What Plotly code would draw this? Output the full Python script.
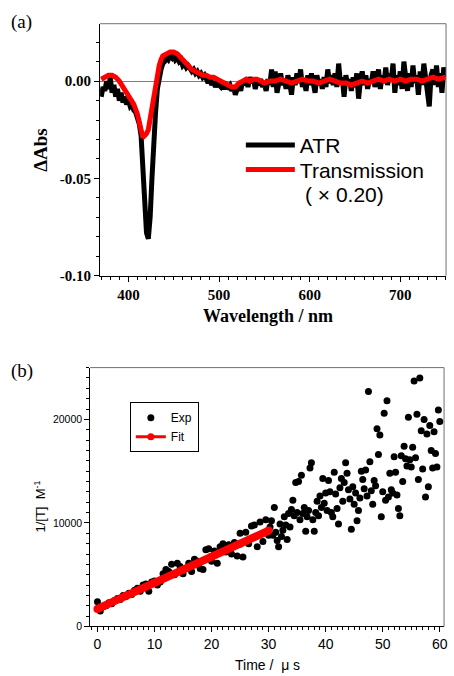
import plotly.graph_objects as go

# ---------------- Panel (a) data ----------------
atr_wavelength = list(range(370, 752, 2))  # nm grid, 2 nm step
atr_dabs = [
    -0.008, -0.003, -0.005, 0.000, -0.004, 0.002, -0.006, -0.002, -0.008, -0.004,   # 370-388
    -0.010, -0.006, -0.011, -0.008, -0.012, -0.010, -0.013, -0.012, -0.015, -0.016, # 390-408
    -0.019, -0.022, -0.028, -0.042, -0.062, -0.078, -0.081, -0.070, -0.050, -0.030, # 410-428
    -0.016, -0.004, 0.003, 0.006, 0.009, 0.010, 0.012, 0.011, 0.013, 0.012,         # 430-448
    0.014, 0.011, 0.012, 0.010, 0.011, 0.008, 0.009, 0.007, 0.008, 0.006,           # 450-468
    0.005, 0.006, 0.004, 0.005, 0.003, 0.004, 0.002, 0.003, 0.001, -0.001,          # 470-488
    0.001, -0.002, 0.000, -0.003, -0.001, -0.002, -0.003, -0.001, -0.004, -0.002,   # 490-508
    -0.003, -0.002, -0.005, -0.003, -0.007, -0.004, -0.002, -0.005, 0.000, -0.002,  # 510-528
    0.001, -0.003, 0.002, -0.001, 0.001, -0.004, 0.000, -0.002, 0.001, -0.003,      # 530-548
    -0.001, -0.005, 0.001, -0.002, 0.006, -0.003, 0.005, -0.006, 0.000, 0.004,      # 550-568
    -0.002, 0.001, -0.004, 0.003, -0.001, -0.007, 0.002, -0.002, 0.004, -0.001,     # 570-588
    0.006, -0.003, 0.001, -0.005, 0.003, -0.002, 0.004, -0.001, -0.006, 0.003,      # 590-608
    -0.002, 0.001, -0.004, 0.002, -0.003, 0.006, -0.001, 0.003, -0.002, 0.004,      # 610-628
    -0.003, 0.009, -0.001, 0.002, -0.008, 0.003, -0.002, 0.001, -0.005, 0.002,      # 630-648
    -0.003, 0.004, -0.009, 0.000, 0.005, -0.002, 0.003, -0.004, 0.001, -0.001,      # 650-668
    0.005, -0.003, 0.002, 0.006, -0.004, 0.003, -0.001, 0.007, -0.002, 0.004,       # 670-688
    0.000, 0.009, -0.006, 0.003, -0.002, 0.005, -0.004, 0.010, 0.002, -0.005,       # 690-708
    0.004, -0.003, 0.008, -0.001, 0.003, -0.007, 0.005, -0.002, 0.009, 0.001,       # 710-728
    -0.004, -0.013, 0.003, 0.006, -0.002, 0.008, -0.003, 0.004, -0.006, 0.007,      # 730-748
    0.002,                                                                          # 750
]

trans_wavelength = [370, 374, 378, 382, 386, 390, 394, 398, 402, 406,
                    410, 412, 414, 416, 418, 420, 422, 424, 426, 428,
                    430, 432, 434, 436, 438, 442, 446, 450, 454, 458,
                    462, 466, 470, 474, 478, 482, 486, 490, 494, 498,
                    502, 506, 510, 514, 518, 522, 526, 530, 534, 538,
                    542, 546, 550, 556, 562, 568, 574, 580, 586, 592,
                    598, 604, 610, 616, 622, 628, 634, 640, 646, 652,
                    658, 664, 670, 676, 682, 688, 694, 700, 706, 712,
                    718, 724, 730, 736, 742, 750]
trans_dabs = [0.001, 0.002, 0.003, 0.003, 0.002, 0.000, -0.003, -0.006, -0.009, -0.012,
              -0.017, -0.021, -0.026, -0.029, -0.028, -0.027, -0.025, -0.019, -0.012, -0.006,
              -0.001, 0.004, 0.008, 0.011, 0.013, 0.014, 0.015, 0.015, 0.014, 0.012,
              0.010, 0.008, 0.006, 0.005, 0.004, 0.003, 0.003, 0.002, 0.002, 0.001,
              0.000, -0.001, -0.002, -0.003, -0.003, -0.001, 0.000, 0.001, 0.000, 0.001,
              0.001, 0.000, -0.001, 0.000, 0.000, 0.001, 0.000, -0.001, 0.000, 0.001,
              0.000, 0.000, -0.001, 0.000, 0.001, 0.000, -0.001, -0.001, -0.002, -0.001,
              0.000, -0.001, 0.000, 0.001, 0.000, 0.001, 0.000, 0.001, 0.000, 0.001,
              0.001, 0.000, 0.001, 0.002, 0.001, 0.002]

a_ytick_vals = [-0.10, -0.05, 0.00]
a_ytick_text = ["-0.10", "-0.05", "0.00"]

# ---------------- Panel (b) data ----------------
exp_time = [i * 0.5 for i in range(61)] + [30 + i * 0.25 for i in range(1, 121)]  # µs grid
exp_inv_T = [
    # 0 - 30 us (0.5 us step)
    2400, 1500, 1900, 2000, 2300, 2200, 2500, 2700, 2600, 3000,
    2900, 3200, 3100, 3500, 3700, 3400, 4000, 4100, 3400, 4300,
    4400, 4000, 4300, 5100, 5500, 5300, 6000, 5000, 6100, 5800,
    5100, 5600, 6100, 5300, 6500, 6300, 5600, 5500, 7400, 7500,
    6300, 7300, 6100, 7700, 8000, 7200, 7900, 7000, 8100, 6800,
    9000, 6700, 9100, 8000, 9700, 9800, 7700, 10100, 8200, 10300,
    8800,
    # 30.25 - 60 us (0.25 us step)
    9600, 10200, 8800, 11500, 9100, 8300, 7700, 9900,
    8700, 9300, 10600, 9800, 8400, 10900, 9600, 11300,
    12200, 10700, 13900, 11000, 14000, 10300, 14600, 10900,
    11500, 9200, 10600, 11200, 15300, 15800, 10300, 9200,
    11000, 12100, 10700, 12600, 11500, 14300, 11900, 12900,
    11200, 14100, 13000, 11000, 10600, 14900, 12800, 11400,
    9900, 13400, 14300, 12100, 13900, 15800, 14800, 13200,
    12300, 9400, 13500, 11800, 12900, 10200, 11200, 12400,
    15000, 14200, 13300, 15100, 12600, 22700, 15900, 13100,
    11800, 14100, 13600, 19100, 16600, 18500, 10600, 13000,
    20600, 12200, 21800, 12500, 14800, 13200, 12900, 16400,
    14900, 12700, 11400, 10700, 16500, 14000, 17400, 16200,
    15500, 20200, 16100, 15400, 17300, 23700, 16300, 20500,
    14200, 24000, 18900, 15200, 20000, 12500, 18600, 13500,
    19400, 17000, 15300, 18800, 16700, 15400, 20900, 19800,
]

fit_time = [0, 5, 10, 15, 20, 25, 30]
fit_inv_T = [1700, 2960, 4220, 5480, 6740, 8000, 9260]

# ---------------- Figure ----------------
W, H = 454, 676
SERIF = "Liberation Serif"
SANS = "Liberation Sans"

def px(xp):
    return xp / W

def py(yp):
    return 1 - yp / H

fig = go.Figure()

fig.add_trace(go.Scatter(x=atr_wavelength, y=atr_dabs, mode="lines", name="ATR",
                         line=dict(color="black", width=5), xaxis="x", yaxis="y",
                         legend="legend"))
fig.add_trace(go.Scatter(x=trans_wavelength, y=trans_dabs, mode="lines", name="Transmission",
                         line=dict(color="#ff0000", width=5), xaxis="x", yaxis="y",
                         legend="legend3"))
fig.add_trace(go.Scatter(x=exp_time, y=exp_inv_T, mode="markers", name="Exp",
                         marker=dict(color="black", size=7), xaxis="x2", yaxis="y2",
                         legend="legend2"))
fig.add_trace(go.Scatter(x=fit_time, y=fit_inv_T, mode="lines+markers", name="Fit",
                         line=dict(color="#ff0000", width=8),
                         marker=dict(color="#ff0000", size=8),
                         xaxis="x2", yaxis="y2", showlegend=False))
# legend entry for the fit (thin line + symbol, as in the original key)
fig.add_trace(go.Scatter(x=[None], y=[None], mode="lines+markers", name="Fit",
                         line=dict(color="#ff0000", width=3),
                         marker=dict(color="#ff0000", size=7),
                         xaxis="x2", yaxis="y2", legend="legend2"))

common_axis = dict(showgrid=False, showline=True, linecolor="black", linewidth=1,
                   ticks="outside", tickcolor="black", ticklen=5, tickwidth=1)

fig.update_layout(
    autosize=True,
    margin=dict(l=0, r=0, t=0, b=0),
    paper_bgcolor="white", plot_bgcolor="white",
    xaxis=dict(domain=[px(101), px(450)], anchor="y", range=[368.8, 750.5],
               dtick=100, tick0=0, zeroline=False,
               minor=dict(dtick=10, ticks="outside", ticklen=3, tickcolor="black", showgrid=False),
               tickfont=dict(family=SERIF, size=15, color="black", weight="bold"),
               **common_axis),
    yaxis=dict(domain=[py(279), py(24)], anchor="x", range=[-0.1, 0.0295],
               tickvals=a_ytick_vals, ticktext=a_ytick_text,
               zeroline=True, zerolinecolor="#808080", zerolinewidth=1,
               minor=dict(dtick=0.01, tick0=0, ticks="outside", ticklen=3, tickcolor="black", showgrid=False),
               tickfont=dict(family=SERIF, size=15, color="black", weight="bold"),
               **common_axis),
    xaxis2=dict(domain=[px(91), px(448)], anchor="y2", range=[-1.27, 60.75],
                dtick=10, tick0=0, zeroline=False,
                minor=dict(dtick=1, ticks="outside", ticklen=3, tickcolor="black", showgrid=False),
                tickfont=dict(family=SANS, size=14, color="black"),
                **common_axis),
    yaxis2=dict(domain=[py(634), py(372)], anchor="x2", range=[0, 25000],
                dtick=10000, tick0=0, zeroline=False, tickformat="d",
                minor=dict(dtick=1000, ticks="outside", ticklen=3, tickcolor="black", showgrid=False),
                tickfont=dict(family=SANS, size=10.5, color="black"),
                **common_axis),
    legend=dict(x=px(243), y=py(147), xanchor="left", yanchor="middle", itemwidth=49,
                bgcolor="rgba(0,0,0,0)", borderwidth=0,
                font=dict(family=SANS, size=21, color="black"), tracegroupgap=0),
    legend3=dict(x=px(243), y=py(172), xanchor="left", yanchor="middle", itemwidth=49,
                 bgcolor="rgba(0,0,0,0)", borderwidth=0,
                 font=dict(family=SANS, size=21, color="black"), tracegroupgap=0),
    legend2=dict(x=px(131), y=py(407), xanchor="left", yanchor="top",
                 bgcolor="white", bordercolor="black", borderwidth=1,
                 font=dict(family=SANS, size=12, color="black"), tracegroupgap=0),
    showlegend=True,
)

shapes = []
for xr, yr in (("x domain", "y domain"), ("x2 domain", "y2 domain")):
    shapes.append(dict(type="line", xref=xr, yref=yr, x0=0, x1=1, y0=1, y1=1,
                       line=dict(color="#707070", width=1)))
    shapes.append(dict(type="line", xref=xr, yref=yr, x0=1, x1=1, y0=0, y1=1,
                       line=dict(color="#707070", width=1)))
fig.update_layout(shapes=shapes)

ann = [
    dict(text="(a)", x=px(9), y=py(22), xanchor="left", yanchor="middle",
         font=dict(family=SERIF, size=19, color="black")),
    dict(text="ΔAbs", x=px(41), y=py(152), textangle=-90, xanchor="center", yanchor="middle",
         font=dict(family=SERIF, size=19, color="black", weight="bold")),
    dict(text="Wavelength / nm", x=px(270), y=py(320), xanchor="center", yanchor="middle",
         font=dict(family=SERIF, size=18, color="black", weight="bold")),
    dict(text="( × 0.20)", x=px(306), y=py(197), xanchor="left", yanchor="middle",
         font=dict(family=SANS, size=21, color="black")),
    dict(text="(b)", x=px(9), y=py(375), xanchor="left", yanchor="middle",
         font=dict(family=SERIF, size=19, color="black")),
    dict(text="1/[T]  M<sup>-1</sup>", x=px(40), y=py(513), textangle=-90,
         xanchor="center", yanchor="middle",
         font=dict(family=SANS, size=13, color="black")),
    dict(text="Time /  μ s", x=px(270), y=py(673), xanchor="center", yanchor="middle",
         font=dict(family=SANS, size=14, color="black")),
]
for a in ann:
    a.update(xref="paper", yref="paper", showarrow=False)
fig.update_layout(annotations=ann)

page_js = (
    "var d=document.documentElement,b=document.body;"
    "d.style.margin='0';d.style.padding='0';d.style.overflow='hidden';"
    "b.style.margin='0';b.style.padding='0';b.style.overflow='hidden';"
    "window.dispatchEvent(new Event('resize'));"
)
fig.write_html("out.html", default_width="100vw", default_height="100vh",
               config={"displayModeBar": False, "responsive": True}, post_script=page_js)
